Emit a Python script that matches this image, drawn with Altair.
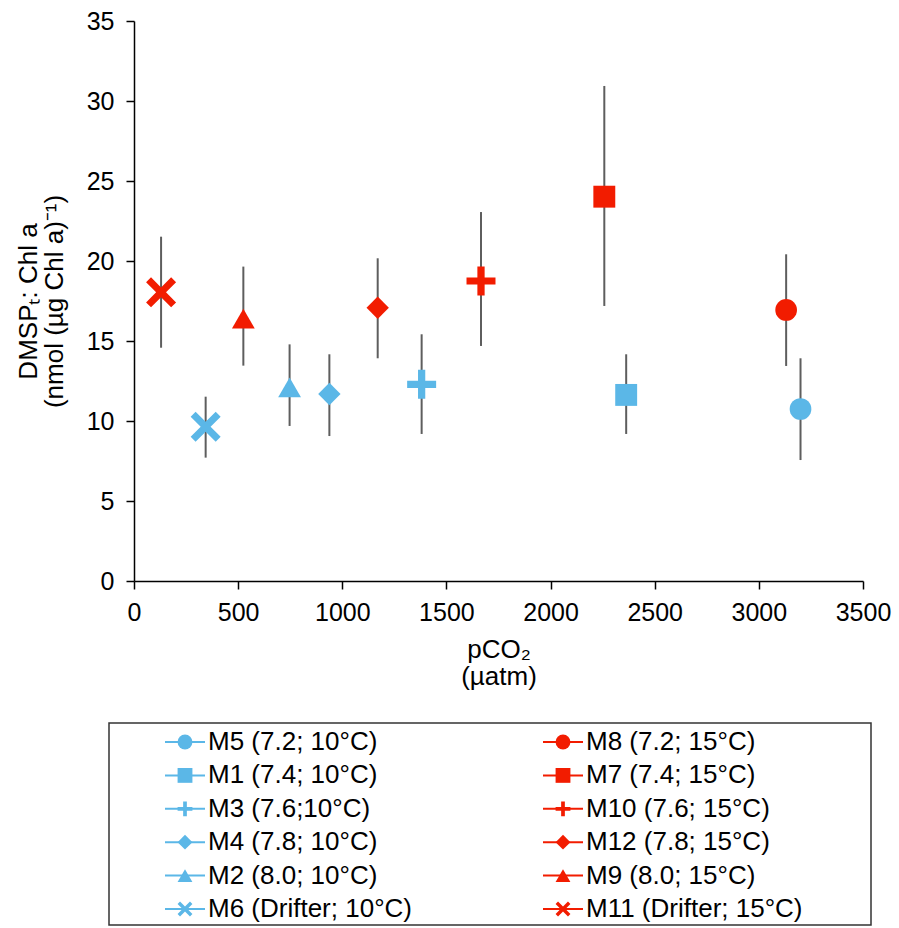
import altair as alt
import pandas as pd

# ---------------- data ----------------
series = ["M5", "M1", "M3", "M4", "M2", "M6", "M8", "M7", "M10", "M12", "M9", "M11"]
labels = ["M5 (7.2; 10°C)", "M1 (7.4; 10°C)", "M3 (7.6;10°C)", "M4 (7.8; 10°C)",
          "M2 (8.0; 10°C)", "M6 (Drifter; 10°C)", "M8 (7.2; 15°C)", "M7 (7.4; 15°C)",
          "M10 (7.6; 15°C)", "M12 (7.8; 15°C)", "M9 (8.0; 15°C)", "M11 (Drifter; 15°C)"]
ph = ["7.2", "7.4", "7.6", "7.8", "8.0", "Drifter", "7.2", "7.4", "7.6", "7.8", "8.0", "Drifter"]
temp = ["10°C"] * 6 + ["15°C"] * 6
pco2 = [3200, 2363, 1381, 938, 747, 344, 3131, 2258, 1666, 1170, 525, 130]
ratio = [10.75, 11.63, 12.29, 11.69, 12.1, 9.64, 16.94, 24.02, 18.75, 17.08, 16.4, 18.04]
err_lo = [7.56, 9.19, 9.19, 9.06, 9.69, 7.71, 13.44, 17.19, 14.69, 13.92, 13.46, 14.58]
err_hi = [13.92, 14.17, 15.42, 14.17, 14.79, 11.52, 20.42, 30.94, 23.06, 20.17, 19.65, 21.52]

PH_LEVELS = ["7.2", "7.4", "7.6", "7.8", "8.0", "Drifter"]
TEMPS = ["10°C", "15°C"]
x_ticks = [0, 500, 1000, 1500, 2000, 2500, 3000, 3500]
y_ticks = [0, 5, 10, 15, 20, 25, 30, 35]

df = pd.DataFrame({"series": series, "label": labels, "ph": ph, "temp": temp,
                   "pco2": pco2, "ratio": ratio, "lo": err_lo, "hi": err_hi})
df["lcol"] = [TEMPS.index(t) for t in temp]
df["lrow"] = [PH_LEVELS.index(p) for p in ph]

# ---------------- style ----------------
FONT = "Liberation Sans"
BLUE = "#5BB7E7"
RED = "#F21C00"
PLUS = "M-1,-0.25H-0.25V-1H0.25V-0.25H1V0.25H0.25V1H-0.25V0.25H-1Z"
XSHAPE = "M-1,-0.67L-0.67,-1L0,-0.33L0.67,-1L1,-0.67L0.33,0L1,0.67L0.67,1L0,0.33L-0.67,1L-1,0.67L-0.33,0Z"
SHAPES = ["circle", "square", PLUS, "diamond", "triangle-up", XSHAPE]
SIZES = [470, 480, 840, 500, 520, 900]

color = alt.Color("temp:N", scale=alt.Scale(domain=TEMPS, range=[BLUE, RED]), legend=None)
shape = alt.Shape("ph:N", scale=alt.Scale(domain=PH_LEVELS, range=SHAPES), legend=None)
size = alt.Size("ph:N", scale=alt.Scale(type="ordinal", domain=PH_LEVELS, range=SIZES), legend=None)

x_axis = alt.Axis(values=x_ticks, format="d", title=["pCO₂", "(µatm)"], labelFlush=False,
                  titlePadding=11, titleLineHeight=27, labelPadding=11)
y_axis = alt.Axis(values=y_ticks, format="d", labelFlush=False,
                  title=["DMSPₜ: Chl a", "(nmol (µg Chl a)⁻¹)"],
                  titlePadding=19, titleLineHeight=26, labelPadding=12)
x_scale = alt.Scale(domain=[0, 3500], nice=False)
y_scale = alt.Scale(domain=[0, 35], nice=False)

errbars = alt.Chart(df).mark_rule(color="#5E5E5E", strokeWidth=2).encode(
    x=alt.X("pco2:Q", scale=x_scale, axis=x_axis),
    y=alt.Y("lo:Q", scale=y_scale, axis=y_axis),
    y2="hi:Q",
)
points = alt.Chart(df).mark_point(filled=True, opacity=1).encode(
    x=alt.X("pco2:Q", scale=x_scale, axis=x_axis),
    y=alt.Y("ratio:Q", scale=y_scale, axis=y_axis),
    color=color, shape=shape, size=size,
)
main = alt.layer(errbars, points)

# ---------------- legend (drawn below the plot) ----------------
lx = alt.Scale(domain=[0, 1], range=[51, 429])
ly = alt.Scale(domain=[0, 5], range=[721, 888])
LX = alt.X("lcol:Q", scale=lx, axis=None)
LY = alt.Y("lrow:Q", scale=ly, axis=None)

box = alt.Chart(pd.DataFrame({"k": [0]})).mark_rect(
    fill="transparent", stroke="#333333", strokeWidth=1.5
).encode(x=alt.value(-25), x2=alt.value(737), y=alt.value(702), y2=alt.value(904))
leg_line = alt.Chart(df).mark_rule(strokeWidth=2, xOffset=-20, x2Offset=20).encode(
    x=LX, x2="lcol:Q", y=LY, color=color)
leg_pt = alt.Chart(df).mark_point(filled=True, opacity=1, size=220).encode(
    x=LX, y=LY, color=color, shape=shape)
leg_txt = alt.Chart(df).mark_text(align="left", baseline="middle", dx=23,
                                  fontSize=26, font=FONT, color="black").encode(
    x=LX, y=LY, text="label:N")
legend = alt.layer(box, leg_line, leg_pt, leg_txt)

chart = alt.layer(main, legend).resolve_scale(
    x="independent", y="independent"
).properties(
    width=729, height=560,
    autosize=alt.AutoSizeParams(type="none"),
    padding={"left": 134, "top": 21, "right": 36, "bottom": 347},
).configure_view(stroke=None).configure_axis(
    grid=False, domainColor="black", domainWidth=1.5, tickColor="black",
    tickWidth=1.5, tickSize=8, labelFont=FONT, labelFontSize=25, labelColor="black",
    titleFont=FONT, titleFontSize=26, titleFontWeight="normal", titleColor="black",
)

chart.save("out.html", embed_options={"renderer": "svg", "actions": False})
